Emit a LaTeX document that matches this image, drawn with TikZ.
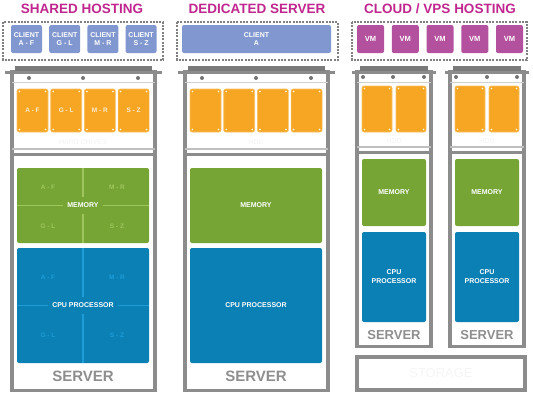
\documentclass[tikz,border=0pt]{standalone}
\usepackage{fontspec}
\setmainfont{Liberation Sans}

\definecolor{headmagenta}{RGB}{192,38,142}
\definecolor{clientblue}{RGB}{129,151,207}
\definecolor{vmpurple}{RGB}{180,81,159}
\definecolor{driveorange}{RGB}{246,166,35}
\definecolor{memgreen}{RGB}{118,165,54}
\definecolor{memline}{RGB}{158,198,92}
\definecolor{cpublue}{RGB}{10,128,181}
\definecolor{cpuline}{RGB}{30,156,216}
\definecolor{rackgray}{RGB}{140,140,140}
\definecolor{rackdark}{RGB}{122,122,122}
\definecolor{servergray}{RGB}{142,142,142}

\tikzset{
  heading/.style={text=headmagenta, font=\bfseries\fontsize{13.5}{15}\selectfont},
  hostbox/.style={draw=black!50, line width=2pt, dash pattern=on 2pt off 1.3pt},
  client/.style={fill=clientblue, rounded corners=2pt, text=white, align=center,
    font=\bfseries\fontsize{7}{8.5}\selectfont, minimum width=31pt, minimum height=28pt, inner sep=0pt},
  vm/.style={client, fill=vmpurple, minimum width=27pt, font=\bfseries\fontsize{7.5}{9}\selectfont},
  drive/.style={fill=driveorange, draw=driveorange!70!white, line width=0.6pt, rounded corners=2pt,
    minimum width=31pt, minimum height=43pt, inner sep=0pt,
    text=white!80!driveorange, font=\bfseries\fontsize{6.5}{8}\selectfont,
    path picture={\foreach \c/\dx/\dy in {north west/1/1, north east/-1/1, south west/1/-1, south east/-1/-1}
      \fill[white] ([shift={(2.5*\dx,2.5*\dy)}]path picture bounding box.\c) circle (0.9);}},
  memory/.style={fill=memgreen, rounded corners=2pt, minimum width=132pt, minimum height=75pt, inner sep=0pt},
  cpu/.style={memory, fill=cpublue, minimum height=115pt},
  partlabel/.style={text=white, align=center, font=\bfseries\fontsize{7}{9}\selectfont},
  sublabel/.style={font=\bfseries\fontsize{6.5}{8}\selectfont},
  serverlabel/.style={text=servergray, font=\bfseries\fontsize{15}{17}\selectfont},
  faint/.style={text=black!5, font=\fontsize{7}{8}\selectfont},
}

% one rack frame: left, right, bottom, separator y, ledge overhang
\newcommand{\serverrack}[5]{%
  \draw[rackgray, line width=3.5pt] (#1,72) rectangle (#2,#3);
  \fill[rackgray] ({#1-#5},70.5) rectangle ({#2+#5},74);
  \fill[rackdark] ({#1+3},65.5) rectangle ({#2-3},71);
  \draw[black!18, line width=1pt] (#1,82) -- (#2,82);
  \draw[black!25, line width=2pt] (#1,#4) -- (#2,#4);
  \draw[black!45, line width=3pt] (#1,{#4+5.5}) -- (#2,{#4+5.5});
}

\begin{document}
\begin{tikzpicture}[x=1pt,y=-1pt]
\useasboundingbox (0,0) rectangle (533,400);

% headings
\node[heading] (h-shared) at (82,9) {SHARED HOSTING};
\node[heading] (h-dedicated) at (257,9) {DEDICATED SERVER};
\node[heading] (h-cloud) at (440,9) {CLOUD / VPS HOSTING};

% clients
\draw[hostbox] (3,22) rectangle (163,60);
\draw[hostbox] (177,22) rectangle (338,60);
\draw[hostbox] (352,22) rectangle (527,60);
\foreach \r [count=\i from 0] in {A - F, G - L, M - R, S - Z}
  \node[client] (cl-\i) at (26.5+38.2*\i,39) {CLIENT\\\r};
\node[client, minimum width=149pt] (cl-a) at (256.5,39) {CLIENT\\A};
\foreach \i in {0,...,4}
  \node[vm] (vm-\i) at (370.5+34.75*\i,39) {VM};

% racks
\serverrack{12}{155}{390.5}{149}{7}
\serverrack{185}{328}{390.5}{149}{7}
\serverrack{357}{431}{346.5}{147}{5}
\serverrack{450}{524}{346.5}{147}{5}
\foreach \x in {29,83,138,202,256,311}
  \fill[black!55] (\x,78) circle (2);
\foreach \x in {363,393,424,456,487,517}
  \fill[black!55] (\x,77) circle (2);

% drives
\foreach \r [count=\i from 0] in {A - F, G - L, M - R, S - Z}
  \node[drive] (sd-\i) at (32.5+33.7*\i,110.5) {\r};
\foreach \i in {0,...,3}
  \node[drive] (dd-\i) at (205.5+33.7*\i,110.5) {};
\foreach \x [count=\i] in {377,411,470,504}
  \node[drive, minimum width=30pt, minimum height=46pt] (vd-\i) at (\x,109) {};
\node[faint] (hdd-s) at (83,142) {HARD DRIVES};
\node[faint] (hdd-d) at (256,142) {HDD};
\node[faint] (hdd-v1) at (394,141) {HDD};
\node[faint] (hdd-v2) at (487,141) {HDD};

% shared: memory and cpu split in four
\node[memory] (mem-s) at (83,205.5) {};
\draw[memline, line width=1.2pt] (mem-s.north) -- (mem-s.south);
\draw[memline, line width=1.2pt] (mem-s.west) -- (mem-s.east);
\node[partlabel, fill=memgreen, inner xsep=4pt, inner ysep=6pt] (mem-s-t) at (mem-s) {MEMORY};
\node[cpu] (cpu-s) at (83,305.5) {};
\draw[cpuline, line width=1.2pt] (cpu-s.north) -- (cpu-s.south);
\draw[cpuline, line width=1.2pt] (cpu-s.west) -- (cpu-s.east);
\node[partlabel, fill=cpublue, inner xsep=4pt, inner ysep=6pt] (cpu-s-t) at (cpu-s) {CPU PROCESSOR};
\foreach \r/\x/\y in {A - F/48/187, M - R/117/187, G - L/48/226, S - Z/117/226}
  \node[sublabel, text=memline] (ms-\r) at (\x,\y) {\r};
\foreach \r/\x/\y in {A - F/48/277, M - R/117/277, G - L/48/335, S - Z/117/335}
  \node[sublabel, text=cpuline] (cs-\r) at (\x,\y) {\r};

% dedicated
\node[memory] (mem-d) at (256,205.5) {};
\node[partlabel] (mem-d-t) at (mem-d) {MEMORY};
\node[cpu] (cpu-d) at (256,305.5) {};
\node[partlabel] (cpu-d-t) at (cpu-d) {CPU PROCESSOR};

% cloud
\foreach \x [count=\i] in {394,487} {
  \node[memory, minimum width=64pt, minimum height=67pt] (mem-v\i) at (\x,192.5) {};
  \node[partlabel] (mem-v\i-t) at (mem-v\i) {MEMORY};
  \node[cpu, minimum width=64pt, minimum height=90pt] (cpu-v\i) at (\x,277) {};
  \node[partlabel] (cpu-v\i-t) at (cpu-v\i) {CPU\\PROCESSOR};
  \node[serverlabel, font=\bfseries\fontsize{13}{15}\selectfont] (srv-v\i) at (\x,335) {SERVER};
}

% server labels
\node[serverlabel] (srv-s) at (83,376) {SERVER};
\node[serverlabel] (srv-d) at (256,376) {SERVER};

% storage
\draw[rackgray, line width=3.5pt] (357,357) rectangle (525,390);
\node[text=black!4, font=\fontsize{13}{15}\selectfont] (storage) at (441,373.5) {STORAGE};
\end{tikzpicture}
\end{document}
